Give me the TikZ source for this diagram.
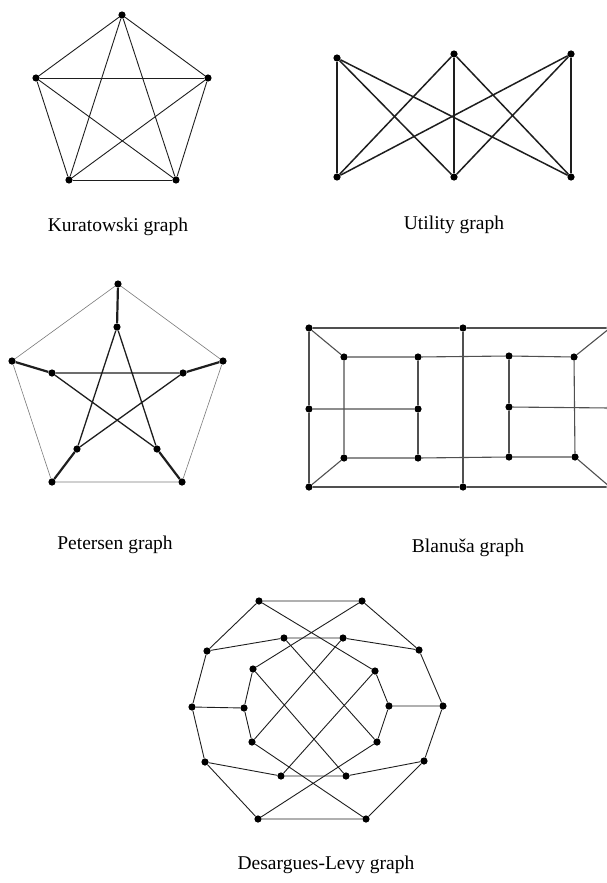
\documentclass[tikz,border=0pt]{standalone}
\usepackage{fontspec}
\setmainfont{Liberation Serif}
\definecolor{edgec}{HTML}{1E1E1E}
\definecolor{greyc}{HTML}{505050}
\definecolor{thinc}{HTML}{7A7A7A}
\tikzset{
  vtx/.style={circle, fill=black, inner sep=0pt, minimum size=7.2pt},
  edge/.style={draw=edgec, line width=0.9pt},
  heavy/.style={draw=edgec, line width=1.5pt},
  hair/.style={draw=thinc, line width=0.6pt},
  spoke/.style={draw=edgec, line width=2.2pt},
  starc/.style={draw=edgec, line width=1.3pt},
  grid/.style={draw=greyc, line width=1.1pt},
  caption/.style={font=\fontsize{19.5}{23}\selectfont},
}

\begin{document}
\begin{tikzpicture}[x=1pt,y=-1pt]
\useasboundingbox (0,0) rectangle (607,883);
\clip (0,0) rectangle (607,883);

% Kuratowski graph
\node[vtx] (k1) at (122,15) {};
\node[vtx] (k2) at (208,78) {};
\node[vtx] (k3) at (176,180) {};
\node[vtx] (k4) at (69,180) {};
\node[vtx] (k5) at (36,78) {};
\foreach \a/\b in {1/2,1/3,1/4,1/5,2/3,2/4,2/5,3/4,3/5,4/5}
  \draw[edge] (k\a) -- (k\b);
\node[caption] (kcap) at (118,227) {Kuratowski graph};

% Utility graph
\node[vtx] (ut1) at (337,58) {};
\node[vtx] (ut2) at (454,54) {};
\node[vtx] (ut3) at (571,54) {};
\node[vtx] (ub1) at (337,177) {};
\node[vtx] (ub2) at (454,177) {};
\node[vtx] (ub3) at (571,177) {};
\foreach \a in {1,2,3}
  \foreach \b in {1,2,3}
    \draw[heavy] (ut\a) -- (ub\b);
\node[caption] (ucap) at (454,225) {Utility graph};

% Petersen graph
\node[vtx] (po1) at (118,284) {};
\node[vtx] (po2) at (223,361) {};
\node[vtx] (po3) at (182,482) {};
\node[vtx] (po4) at (52,482) {};
\node[vtx] (po5) at (12,361) {};
\node[vtx] (pi1) at (117,327) {};
\node[vtx] (pi2) at (183,373) {};
\node[vtx] (pi3) at (157,449) {};
\node[vtx] (pi4) at (77,449) {};
\node[vtx] (pi5) at (52,373) {};
\draw[hair] (po1) -- (po2) -- (po3) -- (po4) -- (po5) -- (po1);
\foreach \a in {1,...,5}
  \draw[spoke] (po\a) -- (pi\a);
\draw[starc] (pi1) -- (pi3) -- (pi5) -- (pi2) -- (pi4) -- (pi1);
\node[caption] (pcap) at (115,545) {Petersen graph};

% Blanusa graph
\node[vtx] (bl1) at (309,328) {};
\node[vtx] (bl2) at (309,409) {};
\node[vtx] (bl3) at (309,487) {};
\node[vtx] (bm1) at (463,328) {};
\node[vtx] (bm2) at (463,487) {};
\node[vtx] (br1) at (610,328) {};
\node[vtx] (br2) at (610,408) {};
\node[vtx] (br3) at (610,487) {};
\node[vtx] (ba1) at (344,357) {};
\node[vtx] (ba2) at (418,357) {};
\node[vtx] (ba3) at (418,409) {};
\node[vtx] (ba4) at (418,458) {};
\node[vtx] (ba5) at (344,458) {};
\node[vtx] (bb1) at (509,356) {};
\node[vtx] (bb2) at (574,357) {};
\node[vtx] (bb3) at (575,457) {};
\node[vtx] (bb4) at (509,457) {};
\node[vtx] (bb5) at (509,407) {};
\draw[grid] (bl1) -- (bm1) -- (br1) -- (br2) -- (br3) -- (bm2) -- (bl3) -- (bl2) -- (bl1);
\draw[grid] (bm1) -- (bm2);
\draw[grid] (bl1) -- (ba1) (bl3) -- (ba5) (br1) -- (bb2) (br3) -- (bb3);
\draw[grid] (ba1) -- (ba2) -- (bb1) -- (bb2) -- (bb3) -- (bb4) -- (ba4) -- (ba5) -- (ba1);
\draw[grid] (ba2) -- (ba3) -- (ba4) (bb1) -- (bb5) -- (bb4);
\draw[grid] (bl2) -- (ba3) (bb5) -- (br2);
\node[caption] (bcap) at (468,548) {Blanuša graph};

% Desargues-Levy graph
\node[vtx] (d1) at (259,601) {};
\node[vtx] (d2) at (362,601) {};
\node[vtx] (d3) at (419,650) {};
\node[vtx] (d4) at (443,706) {};
\node[vtx] (d5) at (424,761) {};
\node[vtx] (d6) at (366,819) {};
\node[vtx] (d7) at (258,819) {};
\node[vtx] (d8) at (205,762) {};
\node[vtx] (d9) at (192,707) {};
\node[vtx] (d10) at (207,651) {};
\node[vtx] (m1) at (284,638) {};
\node[vtx] (m2) at (343,638) {};
\node[vtx] (m3) at (281,776) {};
\node[vtx] (m4) at (346,776) {};
\node[vtx] (il1) at (253,669) {};
\node[vtx] (il2) at (244,708) {};
\node[vtx] (il3) at (252,742) {};
\node[vtx] (ir1) at (375,671) {};
\node[vtx] (ir2) at (389,706) {};
\node[vtx] (ir3) at (377,742) {};
\draw[edge] (d1) -- (d2) -- (d3) -- (d4) -- (d5) -- (d6) -- (d7) -- (d8) -- (d9) -- (d10) -- (d1);
\draw[edge] (d10) -- (m1) -- (m2) -- (d3);
\draw[edge] (d8) -- (m3) -- (m4) -- (d5);
\draw[edge] (d9) -- (il2) (d4) -- (ir2);
\draw[edge] (il1) -- (il2) -- (il3) (ir1) -- (ir2) -- (ir3);
\draw[edge] (d1) -- (ir1) (d2) -- (il1) (d7) -- (ir3) (d6) -- (il3);
\draw[edge] (m1) -- (ir3) (m2) -- (il3) (m3) -- (ir1) (m4) -- (il1);
\node[caption] (dcap) at (326,865) {Desargues-Levy graph};
\end{tikzpicture}
\end{document}
